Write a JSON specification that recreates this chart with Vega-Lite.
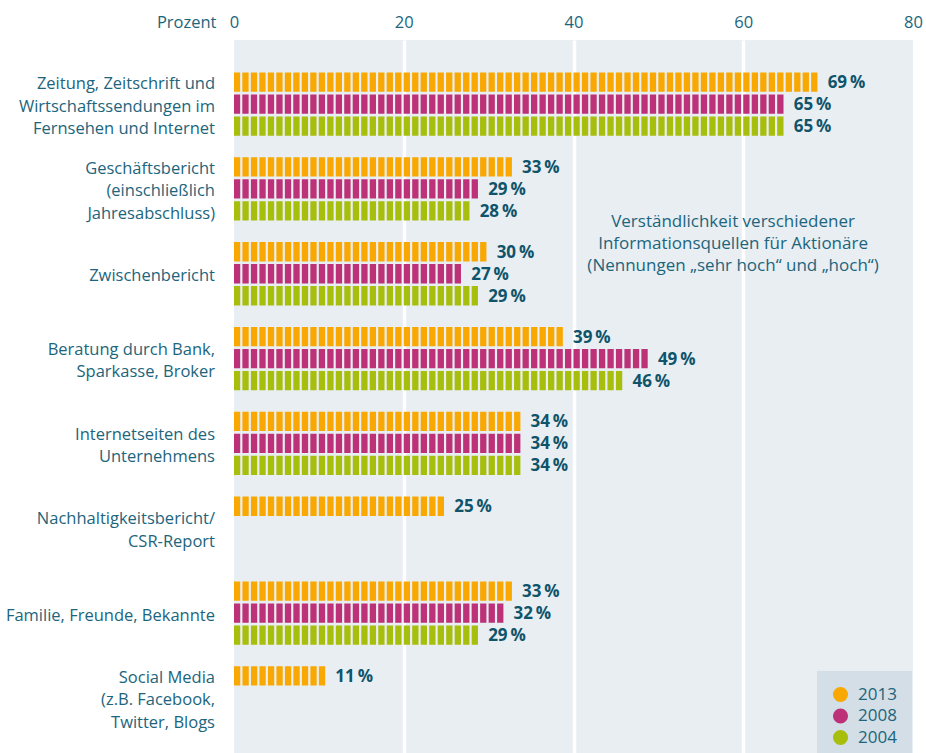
{
  "$schema": "https://vega.github.io/schema/vega-lite/v6.json",
  "width": 679,
  "height": 722,
  "autosize": {"type": "none"},
  "padding": {"left": 234, "top": 40, "right": 13, "bottom": 0},
  "background": "white",
  "config": {"view": {"fill": "#e9eef3", "stroke": null}, "font": "Open Sans"},
  "data": {"values": [
    {"cat": "Zeitung, Zeitschrift und|Wirtschaftssendungen im|Fernsehen und Internet", "year": "2013", "value": 69},
    {"cat": "Zeitung, Zeitschrift und|Wirtschaftssendungen im|Fernsehen und Internet", "year": "2008", "value": 65},
    {"cat": "Zeitung, Zeitschrift und|Wirtschaftssendungen im|Fernsehen und Internet", "year": "2004", "value": 65},
    {"cat": "Geschäftsbericht|(einschließlich|Jahresabschluss)", "year": "2013", "value": 33},
    {"cat": "Geschäftsbericht|(einschließlich|Jahresabschluss)", "year": "2008", "value": 29},
    {"cat": "Geschäftsbericht|(einschließlich|Jahresabschluss)", "year": "2004", "value": 28},
    {"cat": "Zwischenbericht", "year": "2013", "value": 30},
    {"cat": "Zwischenbericht", "year": "2008", "value": 27},
    {"cat": "Zwischenbericht", "year": "2004", "value": 29},
    {"cat": "Beratung durch Bank,|Sparkasse, Broker", "year": "2013", "value": 39},
    {"cat": "Beratung durch Bank,|Sparkasse, Broker", "year": "2008", "value": 49},
    {"cat": "Beratung durch Bank,|Sparkasse, Broker", "year": "2004", "value": 46},
    {"cat": "Internetseiten des|Unternehmens", "year": "2013", "value": 34},
    {"cat": "Internetseiten des|Unternehmens", "year": "2008", "value": 34},
    {"cat": "Internetseiten des|Unternehmens", "year": "2004", "value": 34},
    {"cat": "Nachhaltigkeitsbericht/|CSR-Report", "year": "2013", "value": 25},
    {"cat": "Familie, Freunde, Bekannte", "year": "2013", "value": 33},
    {"cat": "Familie, Freunde, Bekannte", "year": "2008", "value": 32},
    {"cat": "Familie, Freunde, Bekannte", "year": "2004", "value": 29},
    {"cat": "Social Media|(z.B. Facebook,|Twitter, Blogs", "year": "2013", "value": 11}
  ]},
  "layer": [
    {
      "mark": {"type": "rule", "strokeWidth": 19.3, "strokeDash": [6.3, 2.19], "strokeDashOffset": 6.3, "strokeCap": "butt"},
      "encoding": {
        "x": {
          "field": "value", "type": "quantitative",
          "scale": {"domain": [0, 80]},
          "axis": {
            "orient": "top", "values": [0, 20, 40, 60, 80], "domain": false, "ticks": false, "tickSize": 0,
            "grid": true, "gridColor": "white", "gridWidth": 3.5, "labelFlush": false,
            "gridOpacity": {"condition": {"test": "datum.value === 0 || datum.value === 80", "value": 0}, "value": 1},
            "labelColor": "#1c657c", "labelFontSize": 16.5, "labelBaseline": "middle", "labelPadding": 18,
            "title": "Prozent", "titleAngle": 0, "titleAlign": "right", "titleBaseline": "middle",
            "titleX": -18, "titleY": -18, "titleFontWeight": "normal", "titleFontSize": 16.5, "titleColor": "#1c657c"
          }
        },
        "x2": {"datum": 0},
        "y": {
          "field": "cat", "type": "nominal", "sort": null,
          "scale": {"paddingInner": 0.222, "paddingOuter": 0.366},
          "axis": null
        },
        "yOffset": {"field": "year", "type": "nominal", "sort": ["2013", "2008", "2004"], "scale": {"paddingInner": 0, "paddingOuter": 0}},
        "color": {
          "field": "year", "type": "nominal",
          "scale": {"domain": ["2013", "2008", "2004"], "range": ["#f8a800", "#bc3177", "#a8be0c"]},
          "legend": {
            "orient": "none", "legendX": 583, "legendY": 631, "title": null,
            "fillColor": "#d3dee6", "padding": 15,
            "symbolType": "circle", "symbolSize": 227, "symbolStrokeWidth": 0,
            "labelFontSize": 17, "labelColor": "#1c657c", "labelOffset": 9, "rowPadding": 3.5,
            "encode": {"symbols": {"update": {"fill": {"scale": "color", "field": "value"}, "strokeWidth": {"value": 0}}}}
          }
        }
      }
    },
    {
      "transform": [{"calculate": "datum.value + '\u2009%'", "as": "label"}],
      "mark": {"type": "text", "align": "left", "baseline": "middle", "dx": 8, "dy": 1, "fontWeight": "bold", "fontSize": 17, "color": "#0f546a"},
      "encoding": {
        "x": {"field": "value", "type": "quantitative"},
        "y": {"field": "cat", "type": "nominal", "sort": null},
        "yOffset": {"field": "year", "type": "nominal", "sort": ["2013", "2008", "2004"]},
        "text": {"field": "label"}
      }
    },
    {
      "transform": [{"filter": "datum.year === '2013'"}],
      "mark": {
        "type": "text", "align": "right", "baseline": "middle", "dx": -19,
        "lineBreak": "|", "lineHeight": 22.7, "fontSize": 16.5, "color": "#1c657c",
        "dy": {"expr": "2.5 - (length(split(datum.cat, '|')) - 1) * 11.35"}
      },
      "encoding": {
        "x": {"datum": 0, "type": "quantitative"},
        "y": {"field": "cat", "type": "nominal", "sort": null},
        "text": {"field": "cat"}
      }
    },
    {
      "data": {"values": [{"note": "Verständlichkeit verschiedener|Informationsquellen für Aktionäre|(Nennungen „sehr hoch“ und „hoch“)", "px": 58.8, "cat": "Zwischenbericht"}]},
      "mark": {"type": "text", "align": "center", "baseline": "middle", "lineBreak": "|", "lineHeight": 22, "fontSize": 17, "color": "#1c657c", "dy": -52},
      "encoding": {
        "x": {"field": "px", "type": "quantitative"},
        "y": {"field": "cat", "type": "nominal", "sort": null},
        "text": {"field": "note"}
      }
    }
  ]
}
